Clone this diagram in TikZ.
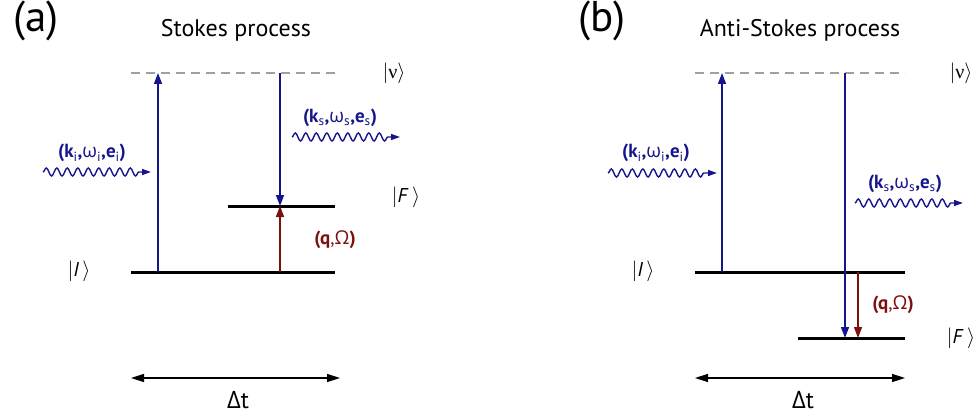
\documentclass[tikz,border=0pt]{standalone}
\usepackage{fontspec}
\setmainfont{PT Sans}
\newfontfamily\gr{Open Sans}
\newfontfamily\ser{Liberation Serif}
\usetikzlibrary{arrows.meta,decorations.pathmorphing}
\definecolor{navy}{RGB}{22,22,140}
\definecolor{dred}{RGB}{125,15,15}
\definecolor{lgray}{RGB}{160,160,160}
\tikzset{
  level/.style={line width=3pt},
  virt/.style={lgray,line width=1.5pt,dash pattern=on 9pt off 6pt},
  trans/.style={navy,line width=1.4pt,-{Triangle[length=11pt,width=8pt]}},
  phon/.style={dred,line width=1.4pt,-{Triangle[length=11pt,width=8pt]}},
  photon/.style={navy,line width=1.4pt,decorate,decoration={snake,amplitude=4pt,segment length=10.5pt,post length=12pt},-{Triangle[length=9pt,width=6pt]}},
  span/.style={line width=1.5pt,{Triangle[length=13pt,width=8pt]}-{Triangle[length=13pt,width=8pt]}},
  lbl/.style={navy,font=\fontsize{19}{21}\selectfont},
  ket/.style={font=\fontsize{20}{22}\selectfont},
  title/.style={font=\fontsize{24}{27}\selectfont},
  panel/.style={font=\fontsize{43}{46}\selectfont}
}
\newcommand{\wi}{{\gr ω}}
\newcommand{\ketnu}{$|${\ser ν}$\rangle$}
\newcommand{\ketI}{$|$\textit{I}\,$\rangle$}
\newcommand{\ketF}{$|$\textit{F}\,$\rangle$}
\begin{document}
\begin{tikzpicture}[x=1pt,y=-1pt]
\useasboundingbox (0,0) rectangle (976,414);
% ---------------- panel (a)
\node[panel] (pa) at (36,21) {(a)};
\node[title] (ta) at (236,30) {Stokes process};
\coordinate (a-nuL) at (131,73); \coordinate (a-nuR) at (335,73);
\coordinate (a-IL) at (131,272); \coordinate (a-IR) at (335,272);
\coordinate (a-FL) at (228,206); \coordinate (a-FR) at (335,206);
\draw[virt] (a-nuL) -- (a-nuR);
\draw[level] (a-IL) -- (a-IR);
\draw[level] (a-FL) -- (a-FR);
\node[ket] (a-nu) at (394,73) {\ketnu};
\node[ket] (a-I) at (79,271) {\ketI};
\node[ket] (a-F) at (406,197) {\ketF};
\coordinate (a-up0) at (158,272); \coordinate (a-up1) at (158,73);
\draw[trans] (a-up0) -- (a-up1);
\coordinate (a-dn0) at (280,73); \coordinate (a-dn1) at (280,206);
\draw[trans] (a-dn0) -- (a-dn1);
\coordinate (a-ph0) at (280,272); \coordinate (a-ph1) at (280,206);
\draw[phon] (a-ph0) -- (a-ph1);
\node[lbl,dred] (a-q) at (335,240) {\textbf{(q},{\gr Ω}\textbf{)}};
\coordinate (a-w0) at (43,172); \coordinate (a-w1) at (151,172);
\draw[photon] (a-w0) -- (a-w1);
\node[lbl] (a-ki) at (92,153) {\textbf{(k}$_{\mathrm{i}}$\textbf{,}\wi$_{\mathrm{i}}$\textbf{,e}$_{\mathrm{i}}$\textbf{)}};
\coordinate (a-s0) at (292,137); \coordinate (a-s1) at (400,137);
\draw[photon] (a-s0) -- (a-s1);
\node[lbl] (a-ks) at (340,118) {\textbf{(k}$_{\mathrm{s}}$\textbf{,}\wi$_{\mathrm{s}}$\textbf{,e}$_{\mathrm{s}}$\textbf{)}};
\coordinate (a-t0) at (131,378); \coordinate (a-t1) at (340,378);
\draw[span] (a-t0) -- (a-t1);
\node[title] (a-dt) at (238,400) {{\gr Δ}t};
% ---------------- panel (b)
\node[panel] (pb) at (602,21) {(b)};
\node[title] (tb) at (800,30) {Anti-Stokes process};
\coordinate (b-nuL) at (695,73); \coordinate (b-nuR) at (905,73);
\coordinate (b-IL) at (695,272); \coordinate (b-IR) at (905,272);
\coordinate (b-FL) at (798,338); \coordinate (b-FR) at (905,338);
\draw[virt] (b-nuL) -- (b-nuR);
\draw[level] (b-IL) -- (b-IR);
\draw[level] (b-FL) -- (b-FR);
\node[ket] (b-nu) at (961,73) {\ketnu};
\node[ket] (b-I) at (643,271) {\ketI};
\node[ket] (b-F) at (961,338) {\ketF};
\coordinate (b-up0) at (722,272); \coordinate (b-up1) at (722,73);
\draw[trans] (b-up0) -- (b-up1);
\coordinate (b-dn0) at (845,73); \coordinate (b-dn1) at (845,338);
\draw[trans] (b-dn0) -- (b-dn1);
\coordinate (b-ph0) at (858,272); \coordinate (b-ph1) at (858,338);
\draw[phon] (b-ph0) -- (b-ph1);
\node[lbl,dred] (b-q) at (893,305) {\textbf{(q},{\gr Ω}\textbf{)}};
\coordinate (b-w0) at (608,173); \coordinate (b-w1) at (717,173);
\draw[photon] (b-w0) -- (b-w1);
\node[lbl] (b-ki) at (656,153) {\textbf{(k}$_{\mathrm{i}}$\textbf{,}\wi$_{\mathrm{i}}$\textbf{,e}$_{\mathrm{i}}$\textbf{)}};
\coordinate (b-s0) at (855,203); \coordinate (b-s1) at (963,203);
\draw[photon] (b-s0) -- (b-s1);
\node[lbl] (b-ks) at (905,184) {\textbf{(k}$_{\mathrm{s}}$\textbf{,}\wi$_{\mathrm{s}}$\textbf{,e}$_{\mathrm{s}}$\textbf{)}};
\coordinate (b-t0) at (695,378); \coordinate (b-t1) at (905,378);
\draw[span] (b-t0) -- (b-t1);
\node[title] (b-dt) at (803,400) {{\gr Δ}t};
\end{tikzpicture}
\end{document}
